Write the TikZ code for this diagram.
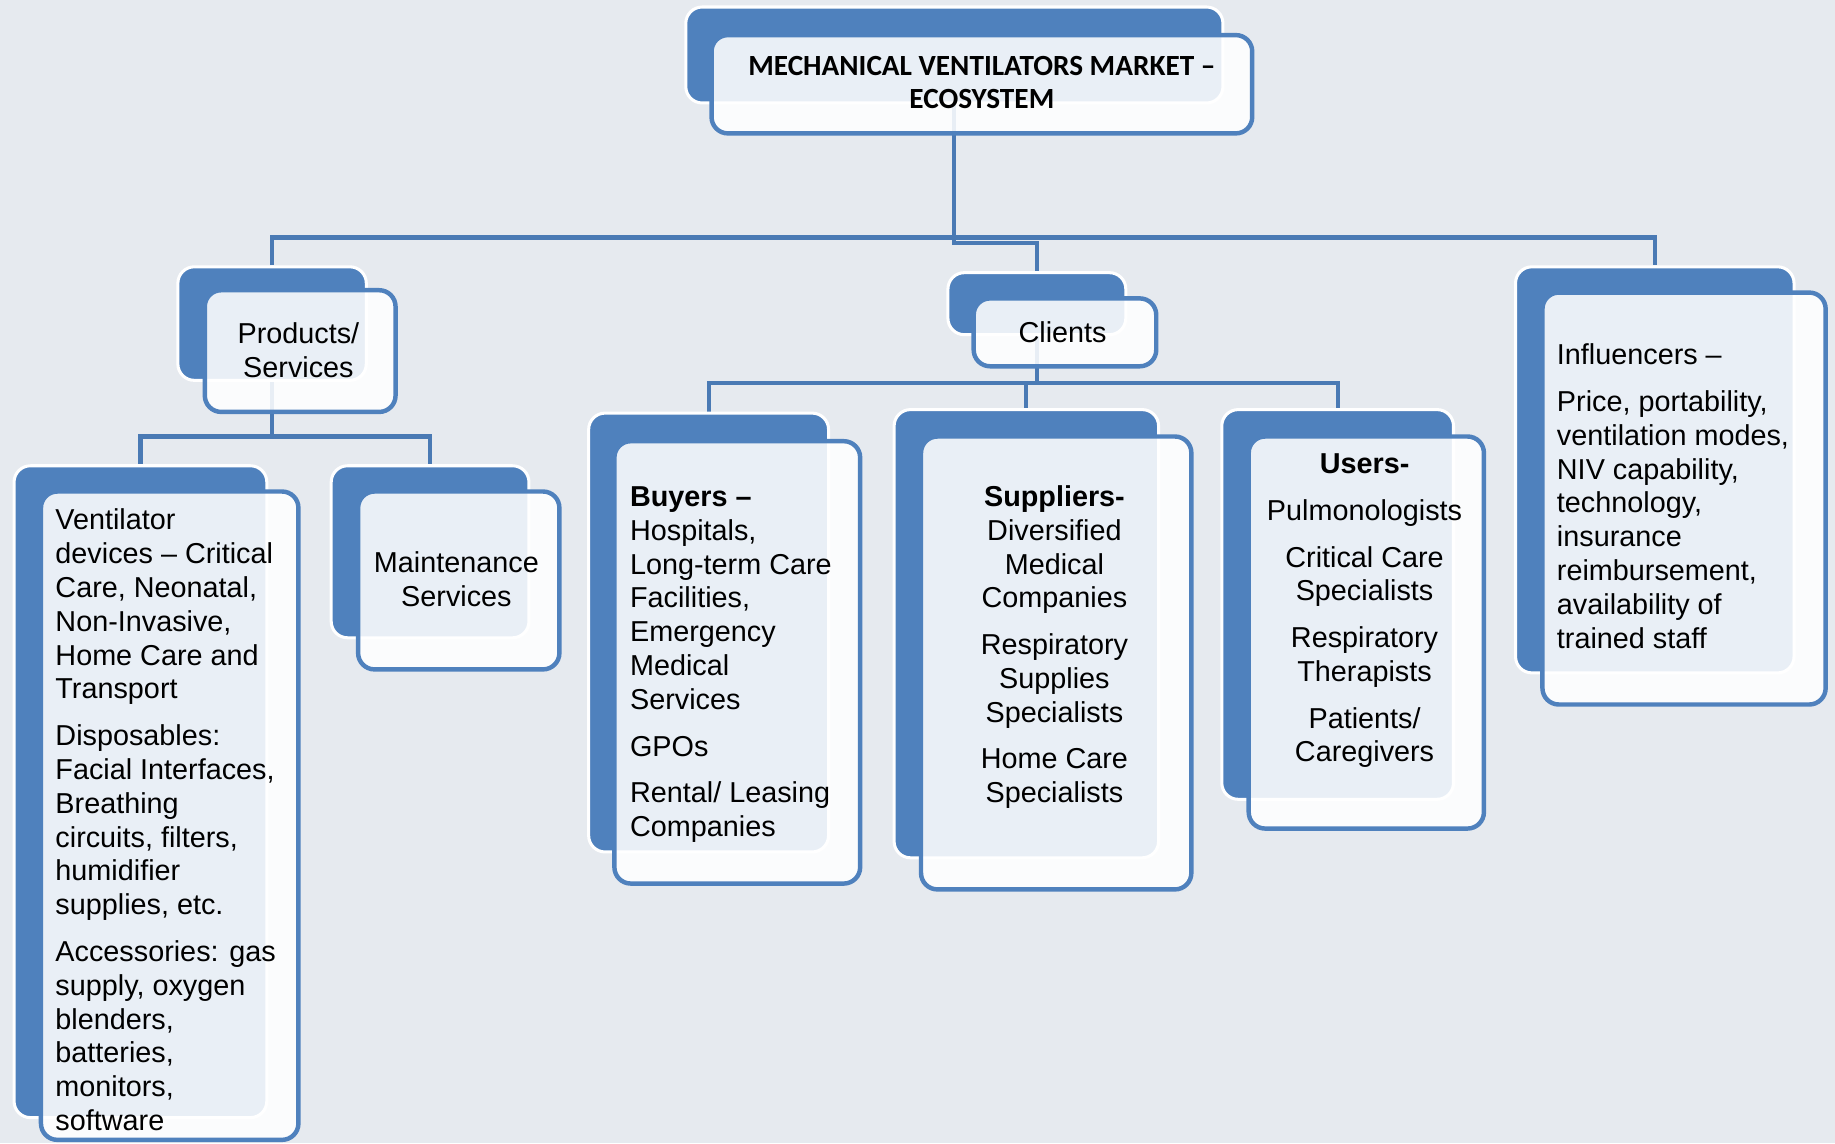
\documentclass[tikz,border=0pt]{standalone}
\usepackage{fontspec}
\setmainfont{Liberation Sans}
\newfontfamily\titlefont[Ligatures=TeX]{Carlito}
\usetikzlibrary{fit,calc}
\definecolor{bgc}{HTML}{E6EAEF}
\definecolor{blu}{HTML}{4F81BD}
\definecolor{linkc}{HTML}{4A7AB4}
\pgfdeclarelayer{under}
\pgfsetlayers{under,main}
\begin{document}
\begin{tikzpicture}[x=0.5pt,y=-0.5pt,
  backbox/.style={fill=blu, draw=white, line width=1.3pt, rounded corners=7pt, inner sep=0pt},
  frontbox/.style={fill=white, fill opacity=0.88, draw=blu, line width=1.9pt, rounded corners=7pt, inner sep=0pt},
  link/.style={draw=linkc, line width=1.8pt},
  txt/.style={inner sep=0pt, font=\fontsize{12.3}{14.45}\selectfont, text=black},
  ttl/.style={inner sep=0pt, font=\titlefont\bfseries\fontsize{12.5}{14.5}\selectfont, text=black, align=center},
]
\useasboundingbox (0,0) rectangle (1568,977);

% title
\node[backbox, fit={(586,6)(1045,88)}] (titleB) {};
\node[frontbox, fit={(608,30)(1070,114)}] (title) {};
\node[ttl] (titleT) at (839,70.5) {MECHANICAL VENTILATORS MARKET \textendash\\ECOSYSTEM};

% products/services
\node[backbox, fit={(152,228)(313,325)}] (prodB) {};
\node[frontbox, fit={(175,248)(338,352)}] (prod) {};
\node[txt, align=center] (prodT) at (255,299) {Products/\\Services};

% clients
\node[backbox, fit={(810,233)(962,286)}] (clientsB) {};
\node[frontbox, fit={(832,255)(988,313)}] (clients) {};
\node[txt] (clientsT) at (908,284) {Clients};

% influencers
\node[backbox, fit={(1295,228)(1533,575)}] (inflB) {};
\node[frontbox, fit={(1318,250)(1560,602)}] (infl) {};
\node[txt, align=left, anchor=north west] (inflT) at (1330,293.5) {Influencers --\\[5.5pt]
Price, portability,\\ventilation modes,\\NIV capability,\\technology,\\insurance\\reimbursement,\\availability of\\trained staff};

% ventilator devices
\node[backbox, fit={(12,398)(228,955)}] (ventB) {};
\node[frontbox, fit={(35,420)(255,974)}] (vent) {};
\node[txt, align=left, anchor=north west] (ventT) at (47,434.5) {Ventilator\\devices -- Critical\\Care, Neonatal,\\Non-Invasive,\\Home Care and\\Transport\\[5.5pt]
Disposables:\\Facial Interfaces,\\Breathing\\circuits, filters,\\humidifier\\supplies, etc.\\[5.5pt]
Accessories: gas\\supply, oxygen\\blenders,\\batteries,\\monitors,\\software};

% maintenance
\node[backbox, fit={(283,398)(452,545)}] (maintB) {};
\node[frontbox, fit={(306,420)(478,572)}] (maint) {};
\node[txt, align=center] (maintT) at (390,495) {Maintenance\\Services};

% buyers
\node[backbox, fit={(503,353)(708,728)}] (buyB) {};
\node[frontbox, fit={(525,377)(735,755)}] (buy) {};
\node[txt, align=left, anchor=north west] (buyT) at (538,415.5) {\textbf{Buyers --}\\Hospitals,\\Long-term Care\\Facilities,\\Emergency\\Medical\\Services\\[5.5pt]
GPOs\\[5.5pt]
Rental/ Leasing\\Companies};

% suppliers
\node[backbox, fit={(764,350)(990,733)}] (supB) {};
\node[frontbox, fit={(787,373)(1018,760)}] (sup) {};
\node[txt, align=center, anchor=north] (supT) at (901,414.5) {\textbf{Suppliers-}\\Diversified\\Medical\\Companies\\[5.5pt]
Respiratory\\Supplies\\Specialists\\[5.5pt]
Home Care\\Specialists};

% users
\node[backbox, fit={(1044,350)(1242,683)}] (usersB) {};
\node[frontbox, fit={(1067,373)(1268,708)}] (users) {};
\node[txt, align=center, anchor=north] (usersT) at (1166,387.5) {\textbf{Users-}\\[5.5pt]
Pulmonologists\\[5.5pt]
Critical Care\\Specialists\\[5.5pt]
Respiratory\\Therapists\\[5.5pt]
Patients/\\Caregivers};

\coordinate (hub) at (815,203);
\coordinate (phub) at (232,373);
\coordinate (chub) at (886,327);

\begin{pgfonlayer}{under}
\fill[bgc] (0,0) rectangle (1568,977);
\draw[link] (titleB.south) |- ($(clientsB.north)+(0,-24)$) -- (clientsB.north);
\draw[link] (prodB.north) -- (prodB.north |- hub) -- (inflB.north |- hub) -- (inflB.north);
\draw[link] (prodB.south) -- (prodB.south |- phub);
\draw[link] (ventB.north) -- (ventB.north |- phub) -- (maintB.north |- phub) -- (maintB.north);
\draw[link] (clientsB.south) -- (clientsB.south |- chub);
\draw[link] (buyB.north) -- (buyB.north |- chub) -- (usersB.north |- chub) -- (usersB.north);
\draw[link] (supB.north) -- (supB.north |- chub);
\end{pgfonlayer}
\end{tikzpicture}
\end{document}
